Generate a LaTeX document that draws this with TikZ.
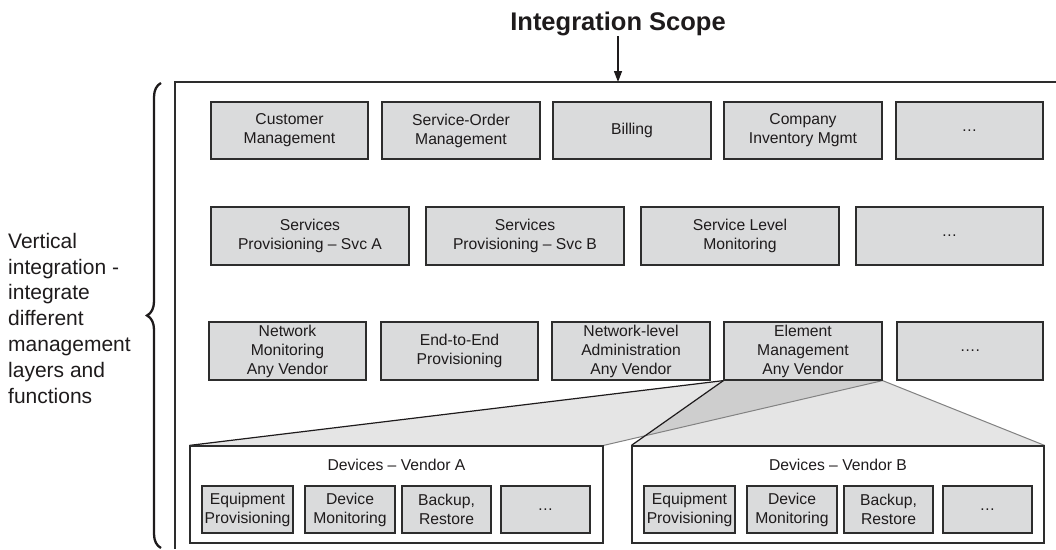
\documentclass[tikz,border=0pt]{standalone}
\usepackage{fontspec}
\setmainfont{Liberation Sans}
\usetikzlibrary{arrows.meta,decorations.pathreplacing,backgrounds}
\definecolor{boxfill}{RGB}{218,219,220}
\definecolor{ink}{RGB}{30,27,28}
\definecolor{edge}{RGB}{45,45,45}
\definecolor{fanline}{RGB}{130,130,130}
\tikzset{
  box/.style={draw=edge, fill=boxfill, line width=1.2pt, inner sep=0pt,
    minimum height=57pt, minimum width=#1, align=center, text=ink,
    font=\fontsize{15.7}{19}\selectfont},
  devbox/.style={box=#1, minimum height=47pt},
  vendor/.style={draw=edge, fill=white, line width=1.2pt, inner sep=0pt,
    minimum height=97pt, minimum width=#1},
  lbl/.style={inner sep=0pt, text=ink, font=\fontsize{15.7}{19}\selectfont},
  darkfan/.style={draw=ink, line width=1.2pt},
  lightfan/.style={draw=fanline, line width=1pt},
  fanfill/.style={fill=black, fill opacity=0.1},
}
\begin{document}
\begin{tikzpicture}[x=1pt,y=-1pt]
\useasboundingbox (0,0) rectangle (1056,549);
% title and scope frame
\node[font=\fontsize{25.5}{30}\selectfont\bfseries, text=ink, inner sep=0pt, anchor=base] (title) at (618,30.5) {Integration Scope};
\coordinate (scopetop) at (618,82);
\draw[edge, line width=1.5pt] (1056,82) -- (175,82) -- (175,549);
\draw[ink, line width=1.3pt, -{Triangle[length=11pt,width=8pt]}] (title.south) -- (scopetop);
% brace and side text
\draw[ink, line width=2.3pt, decorate, decoration={brace, amplitude=14pt, aspect=0.5}] (161,548) -- (161,83);
\node[anchor=base west, inner sep=0pt, text=ink, font=\fontsize{21}{25.8}\selectfont] (vtext) at (8,248.3)
  {\begin{tabular}[t]{@{}l@{}}Vertical\\ integration -\\ integrate\\ different\\ management\\ layers and\\ functions\end{tabular}};
% row 1
\node[box=157pt] (cm) at (289.5,130.5) {Customer\\Management};
\node[box=158pt] (som) at (461,130.5) {Service-Order\\Management};
\node[box=158pt] (bill) at (632,130.5) {Billing};
\node[box=158pt] (cim) at (803,130.5) {Company\\Inventory Mgmt};
\node[box=147pt] (d1) at (969.5,130.5) {…};
% row 2
\node[box=198pt, minimum height=58pt] (sa) at (310,236) {Services\\Provisioning – Svc A};
\node[box=198pt, minimum height=58pt] (sb) at (525,236) {Services\\Provisioning – Svc B};
\node[box=198pt, minimum height=58pt] (slm) at (740,236) {Service Level\\Monitoring};
\node[box=187pt, minimum height=58pt] (d2) at (949.5,236) {…};
% row 3
\node[box=157pt, minimum height=58pt] (nm) at (287.5,351) {Network\\Monitoring\\Any Vendor};
\node[box=157pt, minimum height=58pt] (e2e) at (459.5,351) {End-to-End\\Provisioning};
\node[box=158pt, minimum height=58pt] (nla) at (631,351) {Network-level\\Administration\\Any Vendor};
\node[box=158pt, minimum height=58pt] (em) at (803,351) {Element\\Management\\Any Vendor};
\node[box=146pt, minimum height=58pt] (d3) at (970,351) {….};
% vendor A
\node[vendor=413pt] (vA) at (396.5,494.5) {};
\node[lbl] (vAt) at (396.5,465) {Devices – Vendor A};
\node[devbox=91pt] (aeq) at (247.5,509.5) {Equipment\\Provisioning};
\node[devbox=90pt] (adm) at (350,509.5) {Device\\Monitoring};
\node[devbox=89pt] (abr) at (446.5,509.5) {Backup,\\Restore};
\node[devbox=89pt] (ad) at (545.5,509.5) {…};
% vendor B
\node[vendor=412pt] (vB) at (838,494.5) {};
\node[lbl] (vBt) at (838,465) {Devices – Vendor B};
\node[devbox=91pt] (beq) at (689.5,509.5) {Equipment\\Provisioning};
\node[devbox=90pt] (bdm) at (792,509.5) {Device\\Monitoring};
\node[devbox=89pt] (bbr) at (888.5,509.5) {Backup,\\Restore};
\node[devbox=89pt] (bd) at (987.5,509.5) {…};
% fans
\begin{scope}[on background layer]
\fill[fanfill] (vA.north west) -- (em.south west) -- (em.south east) -- (vA.north east) -- cycle;
\fill[fanfill] (vB.north west) -- (em.south west) -- (em.south east) -- (vB.north east) -- cycle;
\draw[darkfan] (vA.north west) -- (em.south west);
\draw[lightfan] (vA.north east) -- (em.south east);
\draw[darkfan] (vB.north west) -- (em.south west);
\draw[lightfan] (vB.north east) -- (em.south east);
\end{scope}
\end{tikzpicture}
\end{document}
